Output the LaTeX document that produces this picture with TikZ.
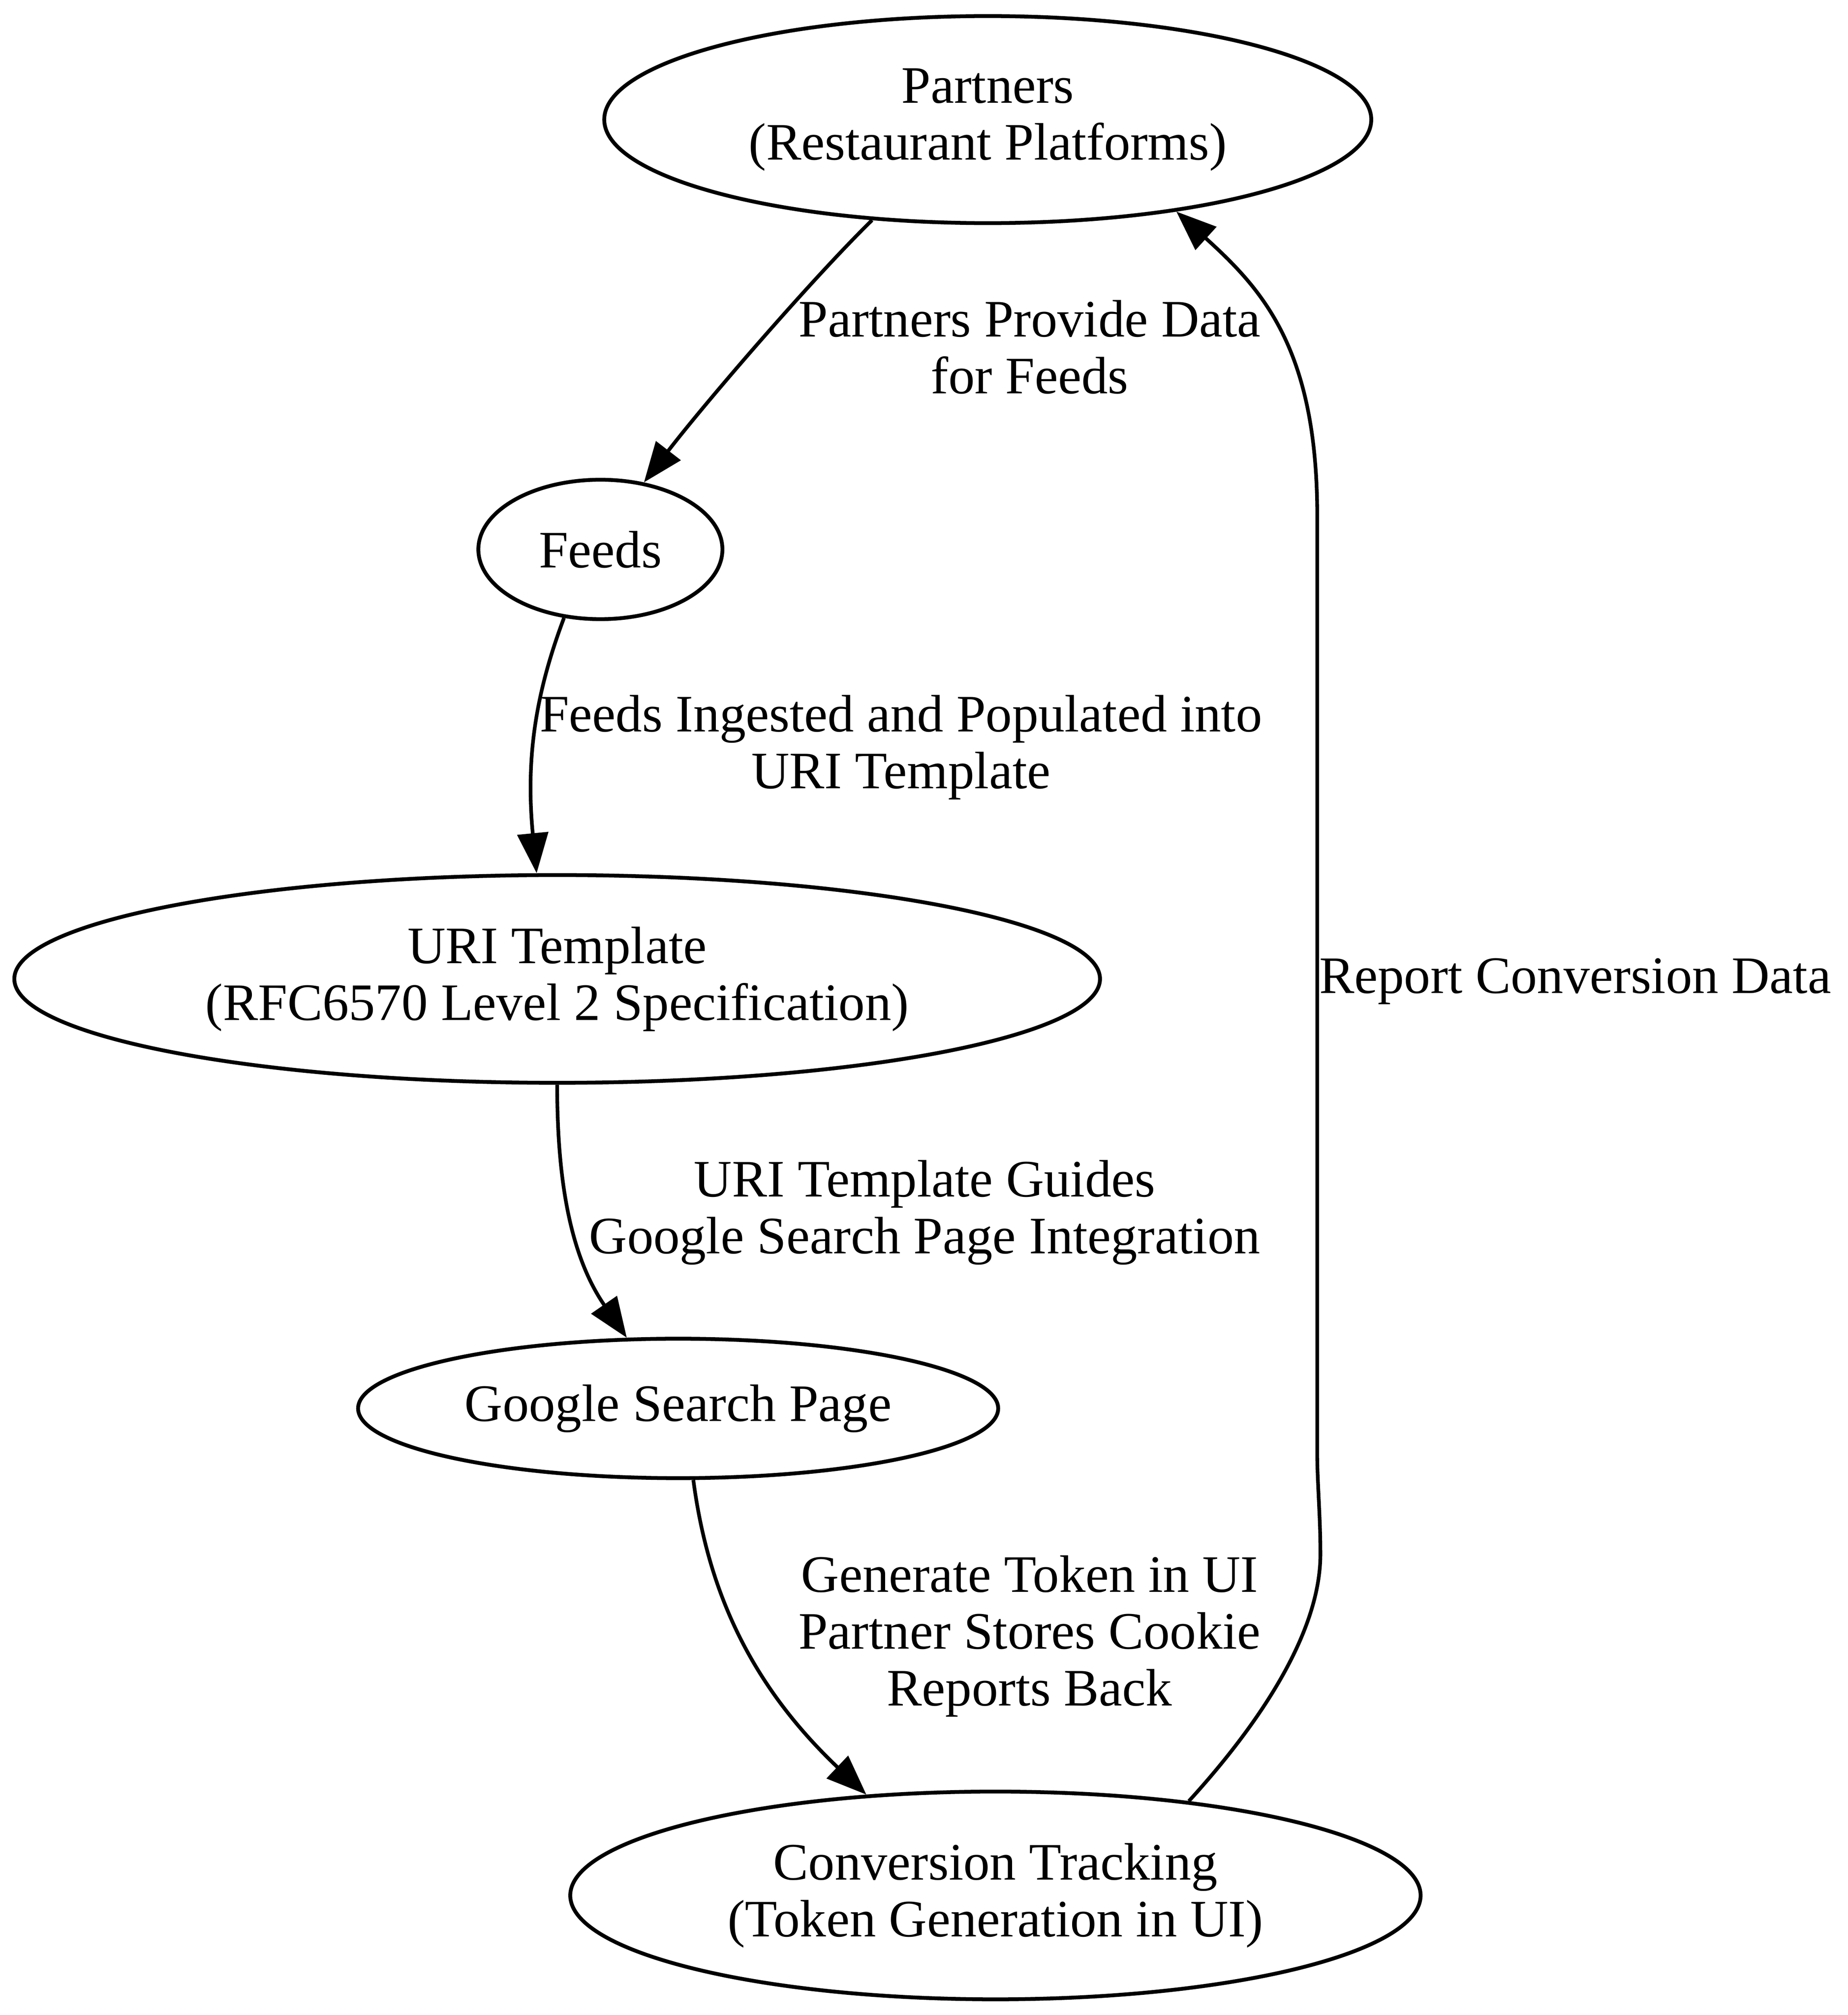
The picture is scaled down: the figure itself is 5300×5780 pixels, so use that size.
\documentclass[tikz,border=0pt]{standalone}
\usepackage{fontspec}
\setmainfont{Liberation Serif}
\usetikzlibrary{arrows.meta,shapes.geometric}
\begin{document}
\begin{tikzpicture}[x=0.1pt,y=-0.1pt,
  gnode/.style={draw, ellipse, line width=1.1pt, inner sep=0pt, align=center, font=\fontsize{15.1}{16.3}\selectfont},
  gedge/.style={draw, line width=1.05pt, -{Triangle[length=11.5pt,width=8.8pt]}},
  elabel/.style={inner sep=0pt, align=center, font=\fontsize{15.1}{16.3}\selectfont}]
\useasboundingbox (0,0) rectangle (5300,5780);
\node[gnode, minimum width=220pt, minimum height=59.4pt] (partners) at (2833,343) {Partners\\(Restaurant Platforms)};
\node[gnode, minimum width=70pt, minimum height=40pt] (feeds) at (1722,1576) {Feeds};
\node[gnode, minimum width=311.4pt, minimum height=59.6pt] (uri) at (1598,2808) {URI Template\\(RFC6570 Level 2 Specification)};
\node[gnode, minimum width=183.6pt, minimum height=40pt] (google) at (1945,4040) {Google Search Page};
\node[gnode, minimum width=243.9pt, minimum height=59.6pt] (conv) at (2855,5437) {Conversion Tracking\\(Token Generation in UI)};
\draw[gedge] (partners.221.3) .. controls (2330,799) and (2026,1151) .. (feeds.57.3);
\draw[gedge] (feeds.242) .. controls (1541,1976) and (1506,2164) .. (uri.101.3);
\draw[gedge] (uri.270) .. controls (1598,3380) and (1634,3600) .. (google.126.6);
\draw[gedge] (google.282.4) .. controls (2030,4560) and (2150,4830) .. (conv.142.4);
\draw[gedge] (conv.26.7) .. controls (3580,4980) and (3790,4700) .. (3787,4453)
  .. controls (3787,4350) and (3778,4250) .. (3778,4175) -- (3778,1480)
  .. controls (3778,1000) and (3620,830) .. (partners.334.4);
\node[elabel] (l1) at (2953,996) {Partners Provide Data\\for Feeds};
\node[elabel] (l2) at (2584,2144) {Feeds Ingested and Populated into\\URI Template};
\node[elabel] (l3) at (2652,3478) {URI Template Guides\\Google Search Page Integration};
\node[elabel] (l4) at (2953,4693) {Generate Token in UI\\Partner Stores Cookie\\Reports Back};
\node[elabel, anchor=base west] (l5) at (3782,2849) {Report Conversion Data};
\end{tikzpicture}
\end{document}
